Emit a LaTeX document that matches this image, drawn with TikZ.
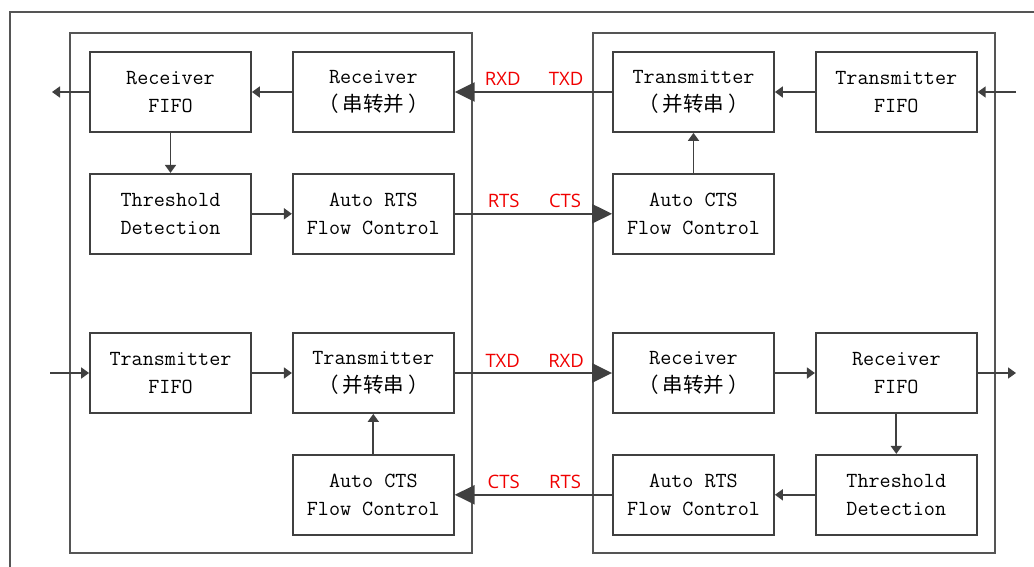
\documentclass[tikz,border=0pt]{standalone}
\usepackage{fontspec}
\newfontfamily\cjk{Noto Sans CJK SC}
\newfontfamily\sigfont{Open Sans}
\usetikzlibrary{arrows.meta, positioning, calc}
\definecolor{linegray}{RGB}{64, 64, 64}
\definecolor{framegray}{RGB}{85, 85, 85}
\definecolor{sigred}{RGB}{240, 0, 0}
\newcommand{\cn}[1]{{\cjk\fontsize{20.5}{28}\selectfont （\hspace{4pt}#1\hspace{4pt}）}}

\begin{document}
\begin{tikzpicture}[x=1pt, y=-1pt,
        node distance=40pt,
        blk/.style={draw=linegray, line width=1.8pt, minimum width=161pt, minimum height=80pt, inner sep=0pt, align=center, font=\ttfamily\fontsize{21.5}{28}\selectfont},
        dev/.style={draw=framegray, line width=1.7pt, minimum width=402pt, minimum height=520pt, inner sep=0pt},
        sig/.style={text=sigred, font=\sigfont\fontsize{18.5}{20}\selectfont, anchor=base, inner sep=0pt},
        arr/.style={-{Triangle[length=8pt, width=11pt]}, line width=1.8pt, linegray},
        bus/.style={-{Triangle[length=20pt, width=19pt]}, line width=2.5pt, linegray}
      ]
        \useasboundingbox (0,0) rectangle (1034,567);
        % outer frame (cut by the picture edge)
        \draw[framegray, line width=1.7pt] (10,600) -- (10,12) -- (1100,12);
        % the two devices
        \node[dev] (devL) at (271,293) {};
        \node[dev] (devR) at (794,293) {};
        % left device
        \node[blk] (lfifoR) at (170.5,92) {Receiver\\FIFO};
        \node[blk, right=of lfifoR] (lrx) {Receiver\\\cn{串转并}};
        \node[blk, below=of lfifoR] (lthr) {Threshold\\Detection};
        \node[blk, right=of lthr] (lrts) {Auto RTS\\Flow Control};
        \node[blk] (lfifoT) at (170.5,373) {Transmitter\\FIFO};
        \node[blk, right=of lfifoT] (ltx) {Transmitter\\\cn{并转串}};
        \node[blk, below=of ltx] (lcts) {Auto CTS\\Flow Control};
        % right device
        \node[blk] (rtx) at (693.5,92) {Transmitter\\\cn{并转串}};
        \node[blk, right=of rtx] (rfifoT) {Transmitter\\FIFO};
        \node[blk, below=of rtx] (rcts) {Auto CTS\\Flow Control};
        \node[blk] (rrx) at (693.5,373) {Receiver\\\cn{串转并}};
        \node[blk, right=of rrx] (rfifoR) {Receiver\\FIFO};
        \node[blk, below=of rrx] (rrts) {Auto RTS\\Flow Control};
        \node[blk, right=of rrts] (rthr) {Threshold\\Detection};
        % free ends
        \coordinate (lout) at (52,92);
        \coordinate (lin) at (50,373);
        \coordinate (rin) at (1016,92);
        \coordinate (rout) at (1016,373);
        % inside the left device
        \draw[arr] (lrx) -- (lfifoR);
        \draw[arr] (lfifoR) -- (lout);
        \draw[arr] (lfifoR) -- (lthr);
        \draw[arr] (lthr) -- (lrts);
        \draw[arr] (lin) -- (lfifoT);
        \draw[arr] (lfifoT) -- (ltx);
        \draw[arr] (lcts) -- (ltx);
        % inside the right device
        \draw[arr] (rin) -- (rfifoT);
        \draw[arr] (rfifoT) -- (rtx);
        \draw[arr] (rcts) -- (rtx);
        \draw[arr] (rrx) -- (rfifoR);
        \draw[arr] (rfifoR) -- (rout);
        \draw[arr] (rfifoR) -- (rthr);
        \draw[arr] (rthr) -- (rrts);
        % lines between the devices
        \draw[bus] (rtx) -- (lrx);
        \draw[bus] (lrts) -- (rcts);
        \draw[bus] (ltx) -- (rrx);
        \draw[bus] (rrts) -- (lcts);
        % signal names
        \node[sig] (n1) at ($(lrx.east)+(48,-6)$) {RXD};
        \node[sig] (n2) at ($(rtx.west)+(-46,-6)$) {TXD};
        \node[sig] (n3) at ($(lrts.east)+(49,-6)$) {RTS};
        \node[sig] (n4) at ($(rcts.west)+(-47,-6)$) {CTS};
        \node[sig] (n5) at ($(ltx.east)+(48,-6)$) {TXD};
        \node[sig] (n6) at ($(rrx.west)+(-46,-6)$) {RXD};
        \node[sig] (n7) at ($(lcts.east)+(49,-6)$) {CTS};
        \node[sig] (n8) at ($(rrts.west)+(-47,-6)$) {RTS};
      \end{tikzpicture}
\end{document}
